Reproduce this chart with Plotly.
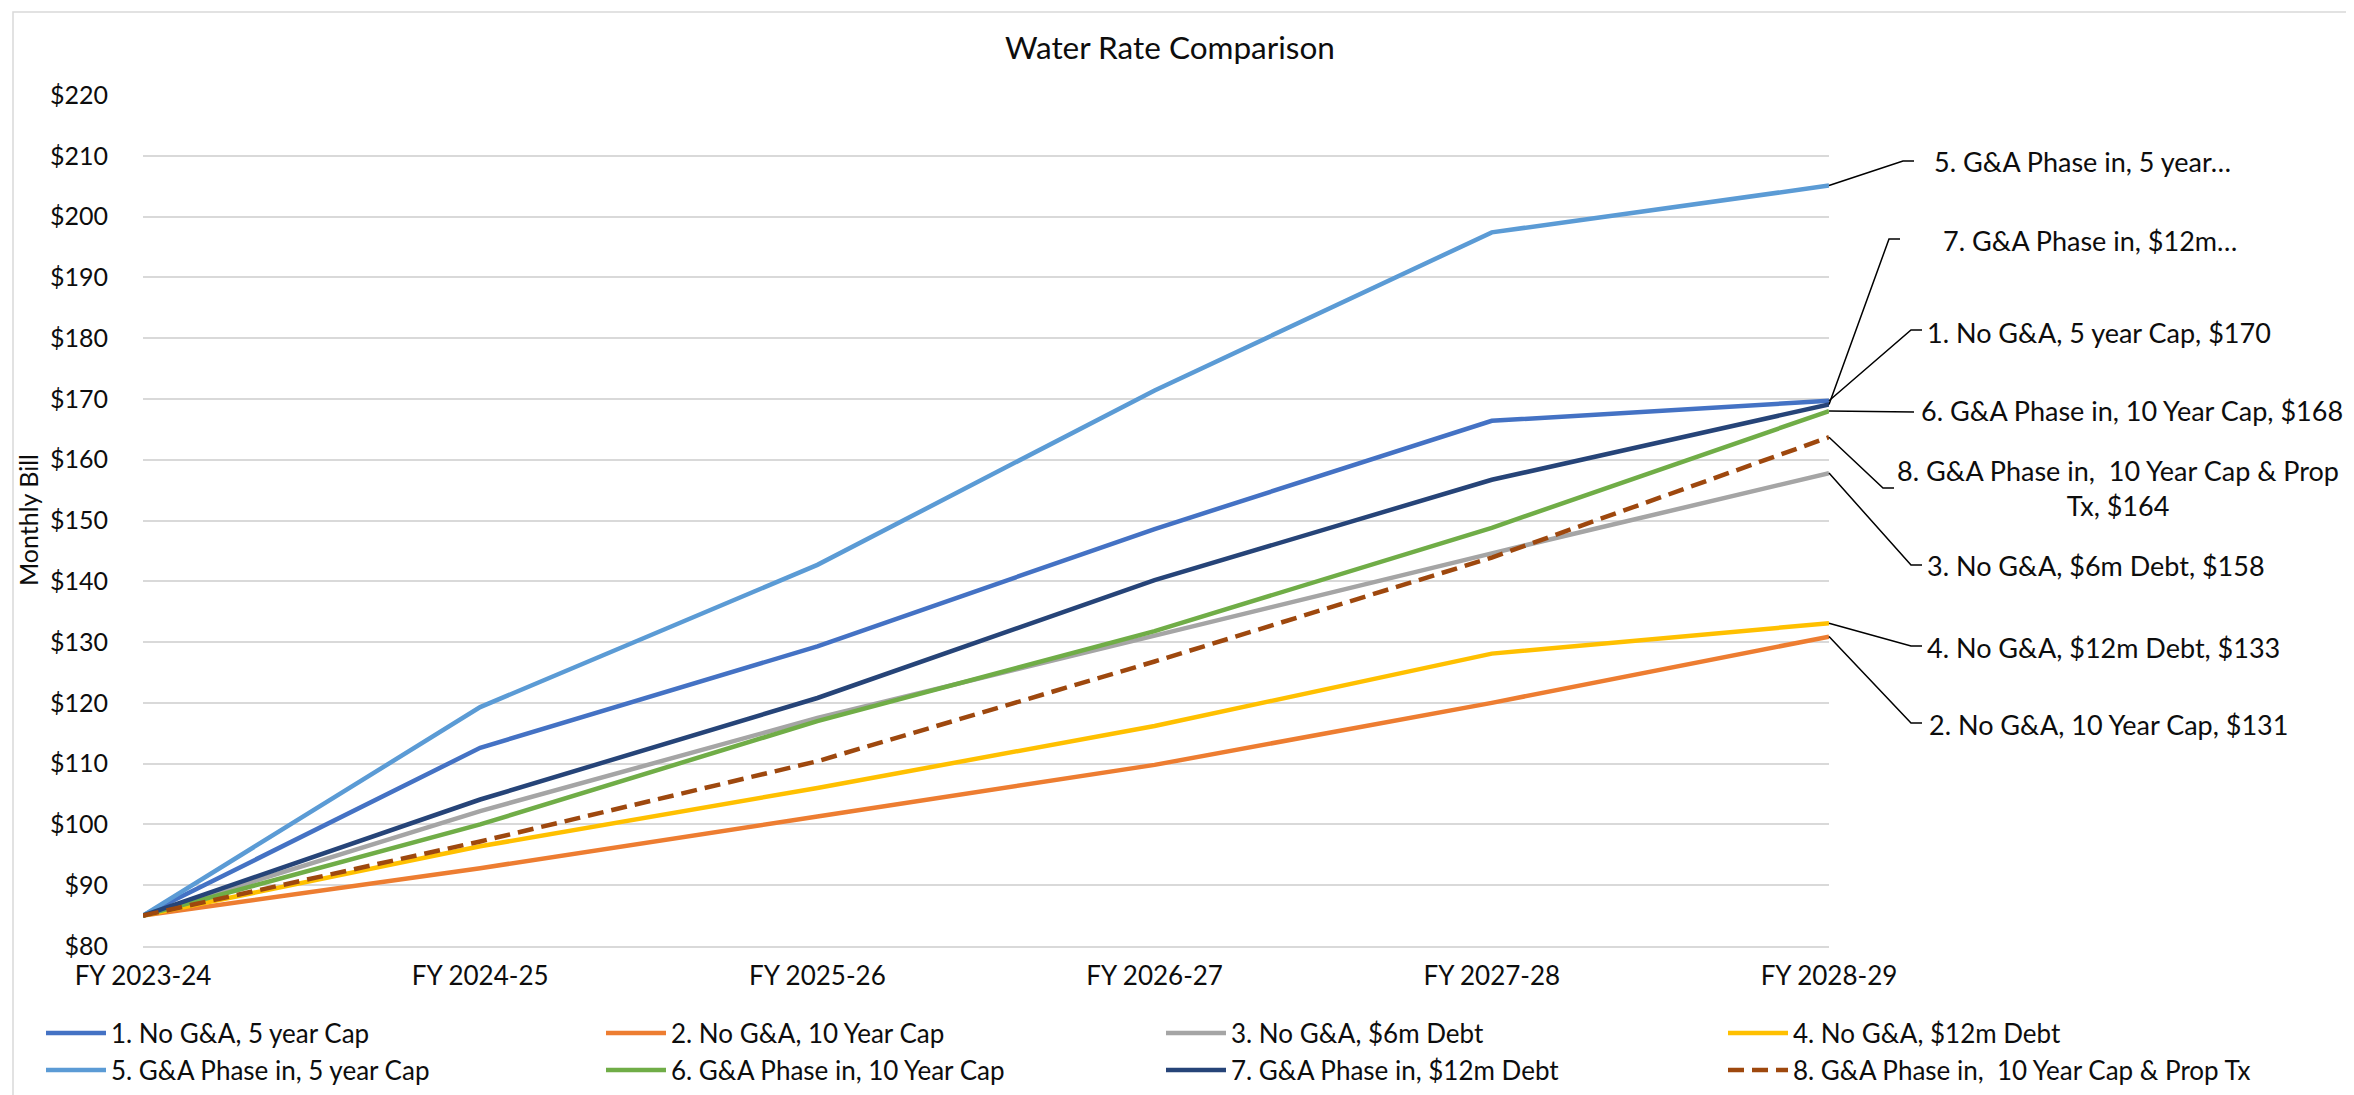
import plotly.graph_objects as go

# ---------------- data ----------------
years = ["FY 2023-24", "FY 2024-25", "FY 2025-26", "FY 2026-27", "FY 2027-28", "FY 2028-29"]

series_names = [
    "1. No G&A, 5 year Cap",
    "2. No G&A, 10 Year Cap",
    "3. No G&A, $6m Debt",
    "4. No G&A, $12m Debt",
    "5. G&A Phase in, 5 year Cap",
    "6. G&A Phase in, 10 Year Cap",
    "7. G&A Phase in, $12m Debt",
    "8. G&A Phase in,  10 Year Cap & Prop Tx",
]

s1 = [85, 112.6, 129.3, 148.6, 166.4, 169.7]
s2 = [85, 92.8, 101.3, 109.8, 120.0, 130.9]
s3 = [85, 102.2, 117.5, 131.0, 144.6, 157.8]
s4 = [85, 96.4, 106.0, 116.2, 128.1, 133.1]
s5 = [85, 119.3, 142.7, 171.4, 197.4, 205.1]
s6 = [85, 100.0, 117.0, 131.8, 148.8, 168.0]
s7 = [85, 104.1, 120.8, 140.2, 156.7, 169.1]
s8 = [85, 97.2, 110.4, 126.8, 143.9, 163.7]
series_values = [s1, s2, s3, s4, s5, s6, s7, s8]

colors = ["#4472C4", "#ED7D31", "#A5A5A5", "#FFC000", "#5B9BD5", "#70AD47", "#264478", "#9E480E"]
dashes = ["solid"] * 7 + ["16px,8px"]

y_min, y_max = 80, 220

# ---------------- geometry (pixels of the 2354x1095 canvas) ----------------
W, H = 2354, 1095
PL, PR, PT, PB = 135, 1821, 87, 938   # plot area edges
pw, ph = PR - PL, PB - PT

def px_to_paper(px, py):
    return (px - PL) / pw, (PB - py) / ph

FONT = "Lato, 'Open Sans', Arial, sans-serif"
TXT = "#0d0d0d"

fig = go.Figure()

for i, (name, vals) in enumerate(zip(series_names, series_values)):
    fig.add_trace(go.Scatter(
        x=years, y=vals, mode="lines", name=name,
        line=dict(color=colors[i], width=4.5, dash=dashes[i]),
        cliponaxis=False,
        legend="legend" if i == 0 else f"legend{i+1}",
    ))

# ---------------- end-of-line labels with leader lines ----------------
def end_label(i):
    v = series_values[i][-1]
    if i == 4:
        return "5. G&A Phase in, 5 year…"
    if i == 6:
        return "7. G&A Phase in, $12m…"
    if i == 7:
        return "8. G&A Phase in,  10 Year Cap & Prop<br>Tx, $" + f"{v:.0f}"
    return f"{series_names[i]}, ${v:.0f}"

# label placement: (text anchor x, text center y, elbow x, elbow y, end x, anchor)
label_pos = {
    4: (1924, 153, 1895, 153, 1906, "left"),
    6: (1933, 232, 1881, 231, 1892, "left"),
    0: (1917, 324, 1903, 322, 1914, "left"),
    5: (1911, 403, 1906, 404, 1906, "left"),
    7: (2110, 480, 1875, 480, 1886, "center"),
    2: (1917, 557, 1903, 557, 1914, "left"),
    3: (1917, 639, 1903, 638, 1914, "left"),
    1: (1919, 716, 1903, 715, 1914, "left"),
}

shapes = []
annotations = []
for i, (tx, ty, ex, ey, endx, anc) in label_pos.items():
    v = series_values[i][-1]
    dx = 1.0
    dy = (v - y_min) / (y_max - y_min)
    exp_, eyp = px_to_paper(ex, ey)
    enp, _ = px_to_paper(endx, ey)
    shapes.append(dict(
        type="path", xref="paper", yref="paper",
        path=f"M{dx},{dy} L{exp_},{eyp} L{enp},{eyp}",
        line=dict(color="#000000", width=1.5),
    ))
    txp, typ = px_to_paper(tx, ty)
    annotations.append(dict(
        x=txp, y=typ, xref="paper", yref="paper", text=end_label(i),
        showarrow=False, xanchor=anc, yanchor="middle", align="center",
        font=dict(family=FONT, size=27, color=TXT),
    ))

# y-axis title
ytx, yty = px_to_paper(20, 512)
annotations.append(dict(
    x=ytx, y=yty, xref="paper", yref="paper", text="Monthly Bill",
    textangle=-90, showarrow=False, xanchor="center", yanchor="middle",
    font=dict(family=FONT, size=25, color=TXT),
))

# chart-area border
bx0, by0 = px_to_paper(5, 1092)
bx1, by1 = px_to_paper(2343, 4)
shapes.append(dict(type="rect", xref="paper", yref="paper", x0=bx0, y0=by0, x1=bx1, y1=by1,
                   line=dict(color="#D9D9D9", width=1.5), layer="below"))

# ---------------- legends (2 rows x 4 columns) ----------------
col_text_x = [113, 673, 1233, 1795]
row_y = [1025, 1062]
legend_layouts = {}
for i in range(8):
    row, col = divmod(i, 4)
    key = "legend" if i == 0 else f"legend{i+1}"
    legend_layouts[key] = dict(
        x=(col_text_x[col] - 80) / W, xref="container", xanchor="left",
        y=(H - row_y[row]) / H, yref="container", yanchor="middle",
        orientation="v", bgcolor="rgba(0,0,0,0)", borderwidth=0,
        itemwidth=60,
        font=dict(family=FONT, size=26, color=TXT),
    )

fig.update_layout(
    width=W, height=H, autosize=False,
    margin=dict(l=PL, r=W - PR, t=PT, b=H - PB, pad=0, autoexpand=False),
    paper_bgcolor="white", plot_bgcolor="white",
    title=dict(text="Water Rate Comparison", x=1162 / W, xref="container", xanchor="center",
               y=1 - 40 / H, yref="container", yanchor="middle",
               font=dict(family=FONT, size=31.5, color=TXT)),
    xaxis=dict(type="category", categoryorder="array", categoryarray=years,
               range=[0, len(years) - 1], showgrid=False, zeroline=False,
               showline=True, linecolor="#D9D9D9", linewidth=2,
               ticks="", ticklabelstandoff=6, automargin=False,
               tickfont=dict(family=FONT, size=26, color=TXT)),
    yaxis=dict(range=[y_min, y_max], dtick=10, tick0=80, tickprefix="$",
               showgrid=True, gridcolor="#D9D9D9", gridwidth=2, automargin=False,
               zeroline=False, showline=False, ticks="", ticklabelstandoff=34,
               tickfont=dict(family=FONT, size=25, color=TXT)),
    shapes=shapes, annotations=annotations, showlegend=True,
    **legend_layouts,
)

fig.write_html("out.html")
